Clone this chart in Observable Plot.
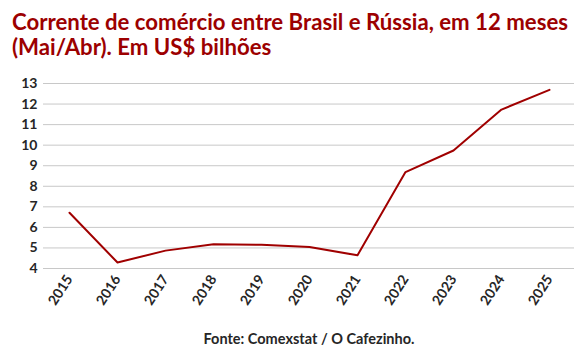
<!DOCTYPE html>
<html><head><meta charset="utf-8">
<script src="https://cdn.jsdelivr.net/npm/d3@7"></script>
<script src="https://cdn.jsdelivr.net/npm/@observablehq/plot@0.6"></script>
<style>
body{margin:0;background:#fff;font-family:Lato,sans-serif;}
#title{position:absolute;left:12px;top:9px;width:580px;font-weight:bold;font-size:22.2px;line-height:25px;color:#9c0000;}
#chart{position:absolute;left:0;top:66px;}
#caption{position:absolute;left:0;top:330px;width:618px;text-align:center;font-weight:bold;font-size:14.5px;color:#262626;}
</style></head>
<body>
<div id="title">Corrente de comércio entre Brasil e Rússia, em 12 meses<br>(Mai/Abr). Em US$ bilhões</div>
<div id="chart"></div>
<div id="caption">Fonte: Comexstat / O Cafezinho.</div>
<script>
const years = ["2015","2016","2017","2018","2019","2020","2021","2022","2023","2024","2025"];
const values = [6.71, 4.29, 4.87, 5.18, 5.15, 5.05, 4.64, 8.69, 9.74, 11.73, 12.69];
const yTicks = [4,5,6,7,8,9,10,11,12,13];
const data = years.map((y,i)=>({year:y, value:values[i]}));
const chart = Plot.plot({
  width: 586,
  height: 252,
  marginTop: 17,
  marginBottom: 50,
  marginLeft: 43,
  marginRight: 12,
  style: {fontFamily: "Lato, sans-serif", fontSize: "14px", fontWeight: "bold", color: "#262626"},
  x: {type: "point", domain: years, padding: 0.5, label: null, tickSize: 0, tickRotate: -57, tickPadding: 8},
  y: {domain: [4,13], ticks: yTicks, label: null, tickSize: 0, tickPadding: 6},
  marks: [
    Plot.gridY(yTicks, {stroke: "#c8c8c8", strokeOpacity: 1, strokeWidth: 1}),
    Plot.line(data, {x: "year", y: "value", stroke: "#a00000", strokeWidth: 2})
  ]
});
document.getElementById("chart").appendChild(chart);
</script>
</body></html>
